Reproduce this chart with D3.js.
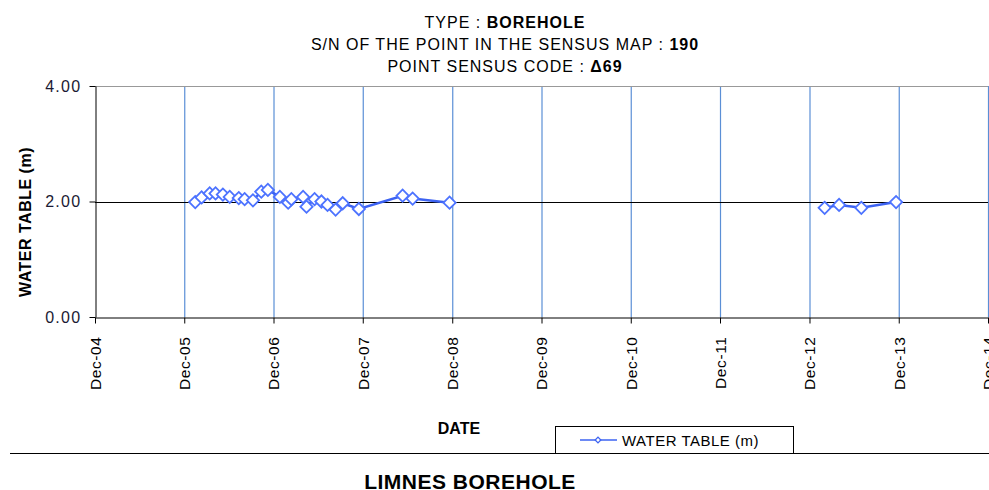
<!DOCTYPE html>
<html>
<head>
<meta charset="utf-8">
<script src="https://cdn.jsdelivr.net/npm/d3@7"></script>
<style>
  body { margin: 0; background: #fff; }
  svg { font-family: "Liberation Sans", Arial, sans-serif; }
</style>
</head>
<body>
<svg id="chart" width="989" height="490"></svg>
<script>
// measurement dates (null value = no readings, line breaks)
const dates = [
  "2006-01-15", "2006-02-10", "2006-03-15", "2006-04-08", "2006-05-08",
  "2006-06-05", "2006-07-12", "2006-08-05", "2006-09-08", "2006-10-12",
  "2006-11-08", "2006-12-27", "2007-01-30", "2007-02-12", "2007-04-01",
  "2007-04-15", "2007-05-18", "2007-06-15", "2007-07-10", "2007-08-12",
  "2007-09-10", "2007-11-15", "2008-05-12", "2008-06-22", "2008-11-20",
  "2010-12-01",
  "2013-02-01", "2013-04-01", "2013-07-01", "2013-11-20"
]
const waterTable = [
  1.99, 2.07, 2.14, 2.14, 2.12,
  2.08, 2.06, 2.04, 2.02, 2.17,
  2.20, 2.08, 1.98, 2.04, 2.08,
  1.91, 2.04, 2.00, 1.94, 1.86,
  1.97, 1.87, 2.10, 2.05, 1.98,
  null,
  1.89, 1.94, 1.89, 1.99
]
const xTicks = ["2004-12-01", "2005-12-01", "2006-12-01", "2007-12-01", "2008-12-01",
  "2009-12-01", "2010-12-01", "2011-12-01", "2012-12-01", "2013-12-01", "2014-12-01"]
const yTicks = [0, 2, 4]

const parse = d3.timeParse("%Y-%m-%d")
const data = dates.map((d, i) => ({date: parse(d), value: waterTable[i]}))

const svg = d3.select('#chart')
const margin = {left: 95, right: 0, top: 86, bottom: 173}
const width = 989, height = 490

const x = d3.scaleTime()
    .domain([parse(xTicks[0]), parse(xTicks[xTicks.length - 1])])
    .range([margin.left, 988])
const y = d3.scaleLinear()
    .domain([0, 4])
    .range([height - margin.bottom, margin.top])

// titles
const title = svg.append('g')
    .attr('font-size', 16)
    .attr('letter-spacing', 1)
    .attr('text-anchor', 'middle')
    .attr('fill', '#000')
const titleLines = [["TYPE : ", "BOREHOLE"], ["S/N OF THE POINT IN THE SENSUS MAP : ", "190"], ["POINT SENSUS CODE : ", "Δ69"]]
titleLines.forEach((t, i) => {
    const txt = title.append('text').attr('x', 505).attr('y', 28 + i * 22)
    txt.append('tspan').text(t[0])
    txt.append('tspan').attr('font-weight', 'bold').text(t[1])
})

// vertical grid lines
svg.append('g')
    .selectAll('line')
    .data(xTicks.slice(1))
    .enter()
    .append('line')
    .attr('x1', d => x(parse(d)) + 0.5)
    .attr('x2', d => x(parse(d)) + 0.5)
    .attr('y1', y(4))
    .attr('y2', y(0))
    .attr('stroke', '#5b8fd6')
    .attr('stroke-width', 1.2)

// horizontal grid lines
svg.append('g')
    .selectAll('line')
    .data(yTicks.slice(1))
    .enter()
    .append('line')
    .attr('x1', x.range()[0])
    .attr('x2', x.range()[1])
    .attr('y1', d => Math.round(y(d)) + 0.5)
    .attr('y2', d => Math.round(y(d)) + 0.5)
    .attr('stroke', d => d == 4 ? '#999' : '#000')

// y axis
const yAxis = svg.append('g')
    .attr('transform', `translate(${margin.left + 0.5},0)`)
    .call(d3.axisLeft(y).tickValues(yTicks).tickFormat(d3.format('.2f')).tickSize(6).tickSizeOuter(0))
yAxis.selectAll('text')
    .attr('font-size', 16)
    .attr('letter-spacing', 1.3)
    .attr('fill', '#1a1a33')
    .attr('x', -14)
    .style('font-family', '"Liberation Sans", Arial, sans-serif')
yAxis.select('.domain').attr('stroke', '#000')
yAxis.selectAll('.tick line').attr('x2', -6).attr('x1', 0)

// x axis
const xAxis = svg.append('g')
    .attr('transform', `translate(0,${Math.round(y(0)) + 0.5})`)
    .call(d3.axisBottom(x).tickValues(xTicks.map(parse)).tickFormat(d3.timeFormat('%b-%y')).tickSize(6).tickSizeOuter(0))
xAxis.select('.domain').attr('stroke', '#000')
xAxis.selectAll('.tick line').attr('stroke', '#000')
xAxis.selectAll('text')
    .attr('font-size', 15.5)
    .attr('letter-spacing', 0.6)
    .attr('fill', '#000')
    .style('font-family', '"Liberation Sans", Arial, sans-serif')
    .attr('transform', 'rotate(-90)')
    .attr('text-anchor', 'end')
    .attr('x', -19)
    .attr('y', 0)
    .attr('dy', '0.35em')

// axis titles
svg.append('text')
    .attr('transform', `translate(31,222) rotate(-90)`)
    .attr('text-anchor', 'middle')
    .attr('font-size', 16)
    .attr('letter-spacing', 0.5)
    .attr('font-weight', 'bold')
    .text('WATER TABLE (m)')

svg.append('text')
    .attr('x', 459).attr('y', 434)
    .attr('text-anchor', 'middle')
    .attr('font-size', 16)
    .attr('font-weight', 'bold')
    .text('DATE')

// series line
const line = d3.line()
    .defined(d => d.value != null)
    .x(d => x(d.date))
    .y(d => y(d.value))

svg.append('path')
    .datum(data)
    .attr('d', line)
    .attr('fill', 'none')
    .attr('stroke', '#3d63f2')
    .attr('stroke-width', 2.5)

const diamond = d3.symbol().type(d3.symbolSquare).size(75)
svg.append('g')
    .selectAll('path')
    .data(data.filter(d => d.value != null))
    .enter()
    .append('path')
    .attr('d', diamond)
    .attr('transform', d => `translate(${x(d.date)},${y(d.value)}) rotate(45)`)
    .attr('fill', '#fff')
    .attr('stroke', '#4d73ff')
    .attr('stroke-width', 1.8)

// separator line
svg.append('line')
    .attr('x1', 10).attr('x2', 989)
    .attr('y1', 453.5).attr('y2', 453.5)
    .attr('stroke', '#000')

// legend
const legend = svg.append('g')
legend.append('rect')
    .attr('x', 555.5).attr('y', 426.5)
    .attr('width', 238).attr('height', 27)
    .attr('fill', '#fff').attr('stroke', '#000')
legend.append('line')
    .attr('x1', 580).attr('x2', 617)
    .attr('y1', 440).attr('y2', 440)
    .attr('stroke', '#3d63f2').attr('stroke-width', 1.5)
legend.append('path')
    .attr('d', d3.symbol().type(d3.symbolSquare).size(16))
    .attr('transform', 'translate(598,440) rotate(45)')
    .attr('fill', '#fff').attr('stroke', '#3d63f2').attr('stroke-width', 1.3)
legend.append('text')
    .attr('x', 622).attr('y', 446)
    .attr('font-size', 15)
    .attr('letter-spacing', 0.5)
    .text('WATER TABLE (m)')

// footer
svg.append('text')
    .attr('x', 470).attr('y', 489)
    .attr('text-anchor', 'middle')
    .attr('font-size', 21)
    .attr('letter-spacing', 0.5)
    .attr('font-weight', 'bold')
    .text('LIMNES BOREHOLE')
</script>
</body>
</html>
